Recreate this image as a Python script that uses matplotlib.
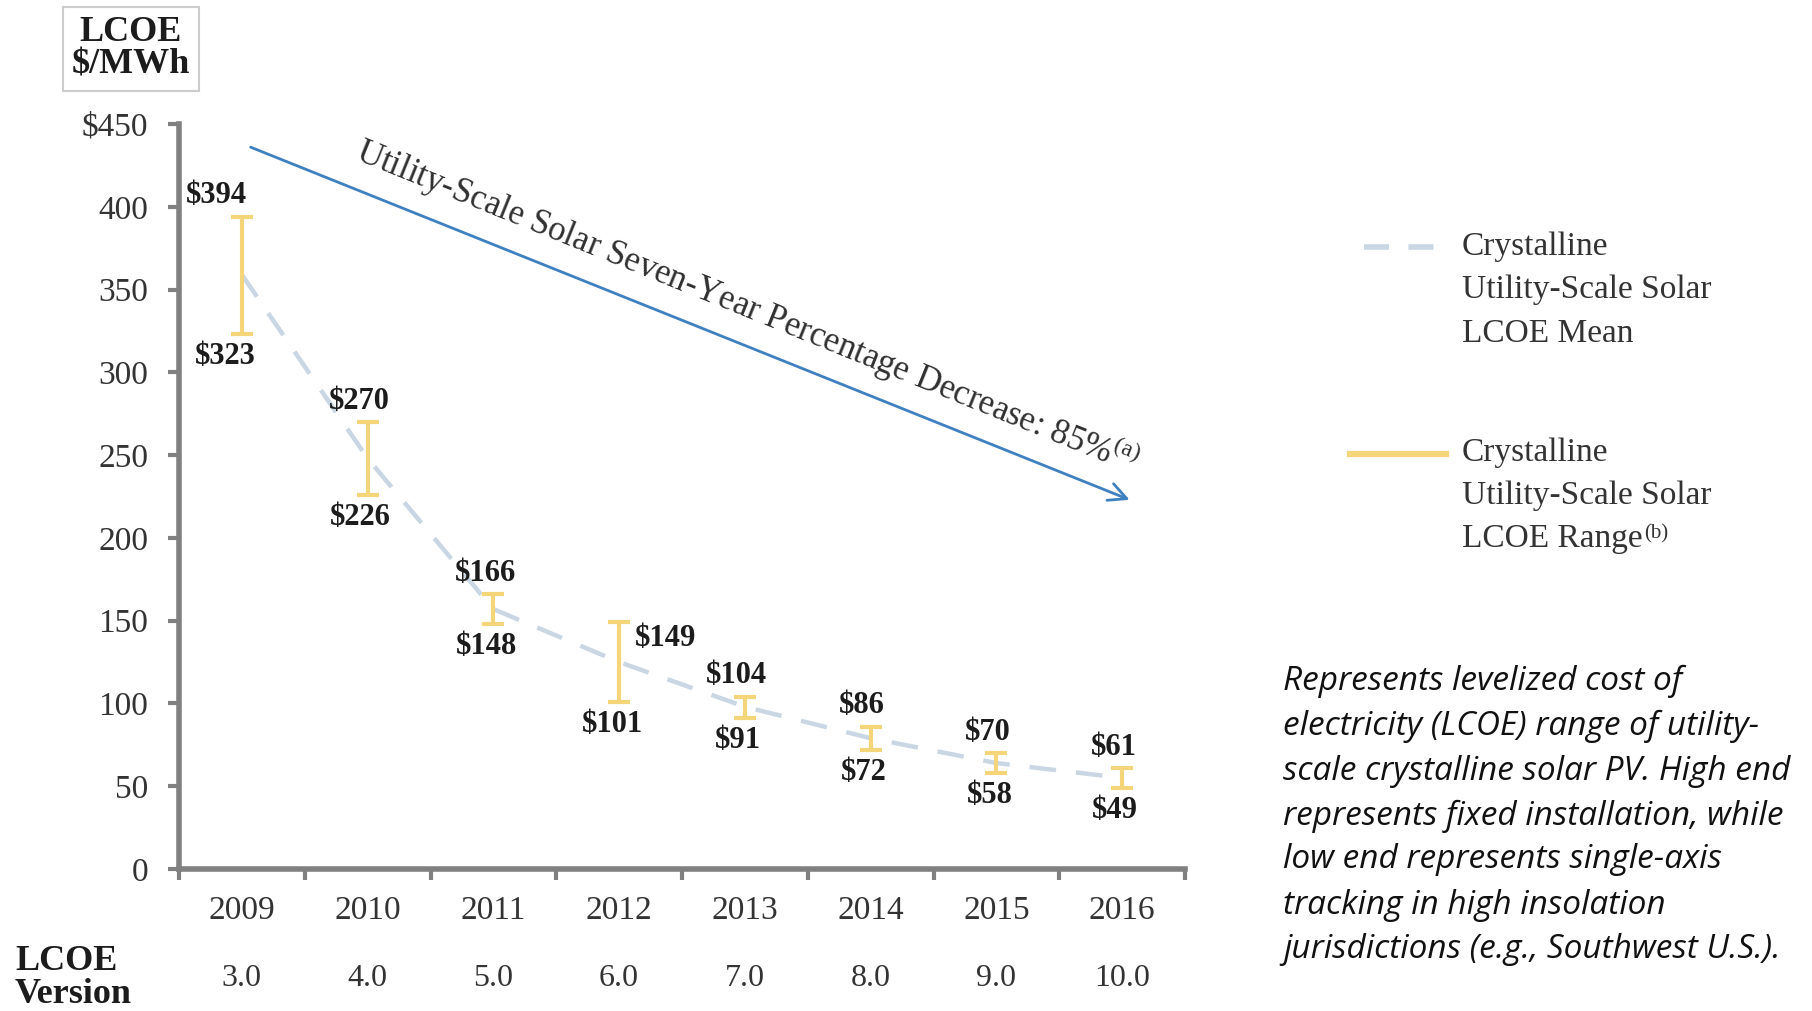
import numpy as np
import matplotlib
matplotlib.use("Agg")
import matplotlib.pyplot as plt
from matplotlib.lines import Line2D
from matplotlib.transforms import blended_transform_factory

# data
years = ["2009", "2010", "2011", "2012", "2013", "2014", "2015", "2016"]
versions = ["3.0", "4.0", "5.0", "6.0", "7.0", "8.0", "9.0", "10.0"]
lcoe_high = [394, 270, 166, 149, 104, 86, 70, 61]
lcoe_low = [323, 226, 148, 101, 91, 72, 58, 49]
lcoe_mean = [359, 248, 157, 125, 98, 79, 64, 55]
yticks = [0, 50, 100, 150, 200, 250, 300, 350, 400, 450]
ytick_labels = ["0", "50", "100", "150", "200", "250", "300", "350", "400", "$450"]

legend_mean = ["Crystalline", "Utility-Scale Solar", "LCOE Mean"]
legend_range = ["Crystalline", "Utility-Scale Solar", "LCOE Range"]

note_lines = [
    "Represents levelized cost of",
    "electricity (LCOE) range of utility-",
    "scale crystalline solar PV. High end",
    "represents fixed installation, while",
    "low end represents single-axis",
    "tracking in high insolation",
    "jurisdictions (e.g., Southwest U.S.).",
]

plt.rcParams['font.family'] = ['Liberation Serif', 'DejaVu Serif']
plt.rcParams['mathtext.fontset'] = 'custom'
plt.rcParams['mathtext.rm'] = 'Liberation Serif'

W, H = 1812, 1011
YELLOW = '#F5D57A'
MEAN_C = '#C9D6E3'
BLUE = '#3F80C0'
GREY = '#808080'
TXT = '#1c1c1c'


def fx(x):
    return x / W


def fy(y):
    return 1 - y / H


fig = plt.figure(figsize=(W / 100, H / 100), dpi=100)
ax = fig.add_axes([fx(179), fy(869), fx(1185) - fx(179), fy(124) - fy(869)])

x = np.arange(len(years))
high = np.array(lcoe_high)
low = np.array(lcoe_low)

# mean line
ax.plot(x, lcoe_mean, color=MEAN_C, lw=3.2, dashes=(6, 4.5), zorder=2)

# range bars
ax.errorbar(x, (high + low) / 2, yerr=[(high - low) / 2, (high - low) / 2],
            fmt='none', ecolor=YELLOW, elinewidth=3, capsize=8, capthick=3, zorder=3)

# value labels
for i in range(len(years)):
    top_dx, top_dy = -6, 15
    bot_dx, bot_dy = -5, -16
    ha_top = 'center'
    if i == 0:
        top_dx, top_dy = -18, 15
        bot_dx = -12
    if i == 3:
        top_dx, top_dy, ha_top = 11, -12, 'left'
    ax.annotate(f"${high[i]}", (x[i], high[i]), xytext=(top_dx, top_dy),
                textcoords='offset points', ha=ha_top, va='center',
                fontsize=22, fontweight='bold', color=TXT)
    ax.annotate(f"${low[i]}", (x[i], low[i]), xytext=(bot_dx, bot_dy),
                textcoords='offset points', ha='center', va='center',
                fontsize=22, fontweight='bold', color=TXT)

# trend arrow
ax.annotate('', xy=(7.06, 223), xytext=(0.07, 436),
            arrowprops=dict(arrowstyle='->', color=BLUE, lw=2, mutation_scale=32,
                            shrinkA=0, shrinkB=0))
ax.text(4.02, 340, r"Utility-Scale Solar Seven-Year Percentage Decrease: 85%$^{\mathrm{(a)}}$",
        rotation=-22, rotation_mode='anchor', ha='center', va='center',
        fontsize=25, color='#303030')

ax.set_xlim(-0.5, 7.5)
ax.set_ylim(0, 450)

for s in ['top', 'right']:
    ax.spines[s].set_visible(False)
for s in ['left', 'bottom']:
    ax.spines[s].set_color(GREY)
    ax.spines[s].set_linewidth(4)

ax.set_yticks(yticks)
ax.set_yticklabels(ytick_labels)
ax.tick_params(axis='y', length=8, width=3, color=GREY, labelsize=24,
               labelcolor='#333333', pad=14)

ax.set_xticks(x)
ax.set_xticklabels(years)
ax.set_xticks(np.arange(-0.5, 8, 1), minor=True)
ax.tick_params(axis='x', which='major', length=0, labelsize=24,
               labelcolor='#333333', pad=19)
ax.tick_params(axis='x', which='minor', length=8, width=3, color=GREY)

# LCOE version row
row = blended_transform_factory(ax.transData, fig.transFigure)
for i, v in enumerate(versions):
    ax.text(x[i], fy(978), v, transform=row, ha='center', va='center',
            fontsize=23, color='#333333')
fig.text(fx(15), fy(978), "LCOE\nVersion", ha='left', va='center',
         fontsize=26, fontweight='bold', color=TXT, linespacing=1.0)

# unit box
fig.text(fx(131), fy(49), "LCOE\n$/MWh", ha='center', va='center', fontsize=26,
         fontweight='bold', color=TXT, linespacing=1.0,
         bbox=dict(boxstyle='square,pad=0.25', fc='white', ec='#cccccc', lw=1.5))

# legend
fig.add_artist(Line2D([fx(1364), fx(1440)], [fy(247), fy(247)], color=MEAN_C,
                      lw=4, dashes=(4.5, 3.5), transform=fig.transFigure))
fig.add_artist(Line2D([fx(1350), fx(1446)], [fy(454), fy(454)], color=YELLOW,
                      lw=4.5, transform=fig.transFigure))
for line, yy in zip(legend_mean, [247, 290, 334]):
    fig.text(fx(1462), fy(yy), line, ha='left', va='center', fontsize=24,
             color='#333333')
last = None
for line, yy in zip(legend_range, [453, 496, 539]):
    last = fig.text(fx(1462), fy(yy), line, ha='left', va='center', fontsize=24,
                    color='#333333')
ax.annotate("(b)", xy=(1, 1), xycoords=last, xytext=(1, 0), textcoords='offset points',
            ha='left', va='top', fontsize=15, color='#333333')

# side note
note_y = [681, 726, 771, 816, 860, 905, 949]
for line, yy in zip(note_lines, note_y):
    fig.text(fx(1283), fy(yy), line, ha='left', va='center', fontsize=24,
             style='italic', family=['Open Sans', 'DejaVu Sans'], color='#111111')

fig.savefig("out.png", dpi=100)
